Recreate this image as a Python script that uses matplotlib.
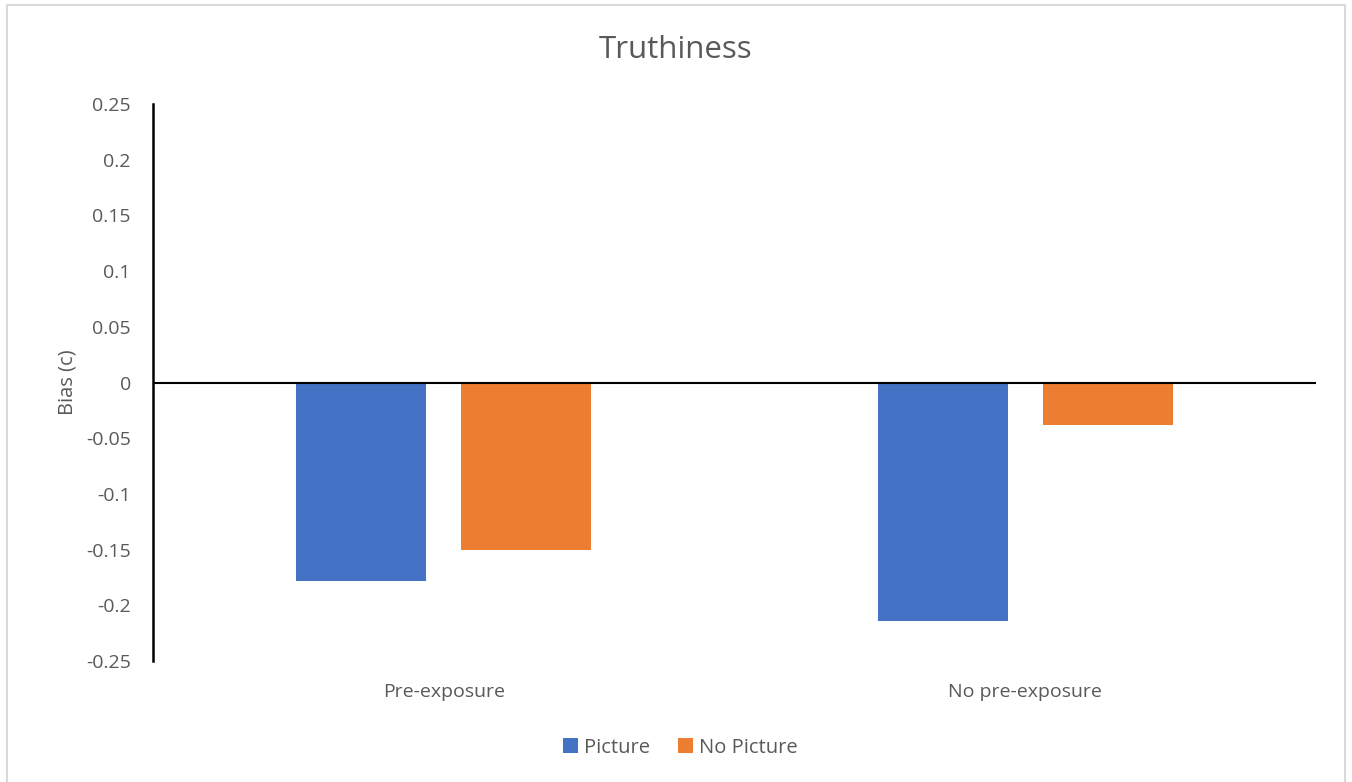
import matplotlib.pyplot as plt
import numpy as np
from matplotlib.patches import Rectangle

# Chart data
categories = ["Pre-exposure", "No pre-exposure"]
picture = [-0.178, -0.214]
no_picture = [-0.150, -0.038]
yticks = [-0.25, -0.2, -0.15, -0.1, -0.05, 0, 0.05, 0.1, 0.15, 0.2, 0.25]
ytick_labels = ["-0.25", "-0.2", "-0.15", "-0.1", "-0.05", "0", "0.05", "0.1", "0.15", "0.2", "0.25"]

plt.rcParams['font.family'] = ['Open Sans', 'DejaVu Sans']
text_color = '#595959'

fig = plt.figure(figsize=(13.52, 7.82), dpi=100)
ax = fig.add_axes((0.1132, 0.1547, 0.8602, 0.7123))

x = np.arange(len(categories))
width = 0.224
offset = 0.142
ax.bar(x - offset, picture, width, color='#4472C4', label='Picture')
ax.bar(x + offset, no_picture, width, color='#ED7D31', label='No Picture')

ax.set_xlim(-0.5, 1.5)
ax.set_ylim(-0.25, 0.25)
ax.axhline(0, color='black', lw=1.5)

ax.set_yticks(yticks)
ax.set_yticklabels(ytick_labels)
ax.set_xticks(x)
ax.set_xticklabels(categories)
ax.tick_params(axis='both', length=0, labelsize=14, colors=text_color)
ax.tick_params(axis='y', pad=16)
ax.tick_params(axis='x', pad=16)

for s in ['top', 'right', 'bottom']:
    ax.spines[s].set_visible(False)
ax.spines['left'].set_linewidth(1.8)
ax.spines['left'].set_color('black')

ax.set_ylabel('Bias (c)', fontsize=14.5, color=text_color, labelpad=6)
fig.text(0.5, 0.936, 'Truthiness', ha='center', va='center', fontsize=22.5, color=text_color)

fig.legend(loc='center', bbox_to_anchor=(0.503, 0.044), ncol=2, frameon=False,
           fontsize=14.5, labelcolor=text_color, handlelength=0.75, handleheight=0.75,
           handletextpad=0.3, columnspacing=1.4)

# thin gray chart border
fig.patches.append(Rectangle((0.005, -0.01), 0.99, 1.0035, transform=fig.transFigure,
                             fill=False, edgecolor='#D9D9D9', lw=1.5))

fig.savefig('out.png', dpi=100)
